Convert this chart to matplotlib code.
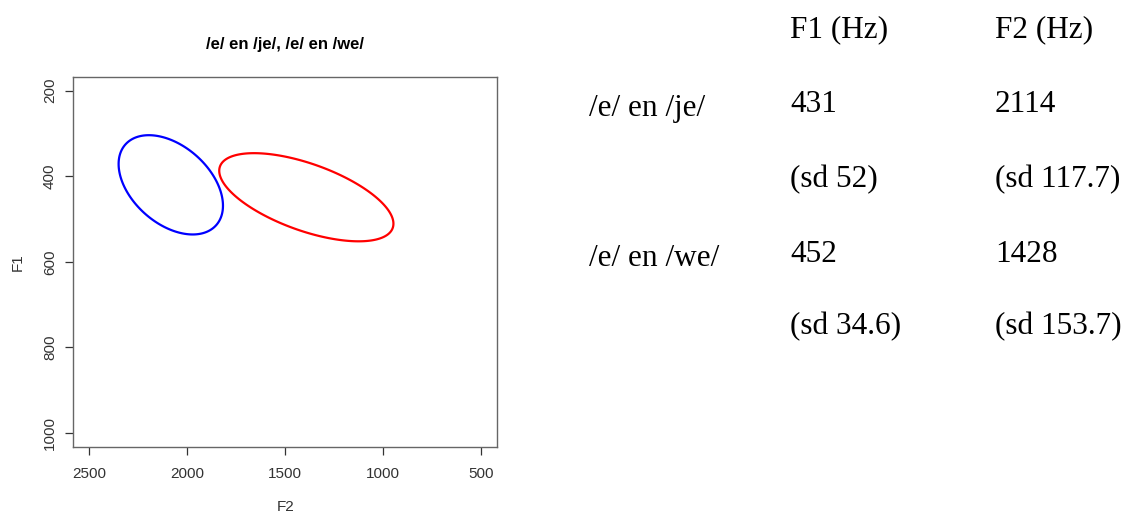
import numpy as np
import matplotlib
matplotlib.use("Agg")
import matplotlib.pyplot as plt
from matplotlib.patches import Polygon

# ---------------------------------------------------------------------------
# Data
# ---------------------------------------------------------------------------
groups = ["/e/ en /je/", "/e/ en /we/"]
colors = ["#0000ff", "#ff0000"]

# ellipses (Hz)
ell_f2_center = [2083, 1392]
ell_f1_center = [420, 449]
ell_f2_radius = [266, 444]
ell_f1_radius = [116, 103]
ell_corr = [-0.42, -0.60]

x_ticks = [2500, 2000, 1500, 1000, 500]
y_ticks = [200, 400, 600, 800, 1000]

# table on the right
table_header = ["F1 (Hz)", "F2 (Hz)"]
f1_mean = [431, 452]
f2_mean = [2114, 1428]
f1_sd = [52, 34.6]
f2_sd = [117.7, 153.7]

W, H = 1129, 513
SANS = "Liberation Sans"
SERIF = "Liberation Serif"


def px(x, y):
    """pixel position -> figure fraction"""
    return x / W, 1 - y / H


def ellipse_points(c2, c1, r2, r1, rho, n=240):
    t = np.linspace(0, 2 * np.pi, n, endpoint=False)
    f2 = c2 + r2 * np.cos(t)
    f1 = c1 + r1 * (rho * np.cos(t) + np.sqrt(1 - rho ** 2) * np.sin(t))
    return np.column_stack([f2, f1])


fig = plt.figure(figsize=(W / 100, H / 100), dpi=100)
ax = fig.add_axes([73.3 / W, 1 - 446.7 / H, (497 - 73.3) / W, (446.7 - 77) / H])

for i in range(len(groups)):
    pts = ellipse_points(ell_f2_center[i], ell_f1_center[i],
                         ell_f2_radius[i], ell_f1_radius[i], ell_corr[i])
    ax.add_patch(Polygon(pts, closed=True, fill=False,
                         edgecolor=colors[i], lw=1.6))

ax.set_xlim(2580, 420)
ax.set_ylim(1032, 168)
ax.set_xticks(x_ticks)
ax.set_yticks(y_ticks)

for sp in ax.spines.values():
    sp.set_color("#666666")
    sp.set_linewidth(1.0)

ax.tick_params(axis="both", direction="out", length=5.8, width=0.9,
               color="#333333", labelcolor="#333333", labelsize=11)
ax.tick_params(axis="x", pad=9)
ax.tick_params(axis="y", pad=6)
for lab in ax.get_xticklabels():
    lab.set_family(SANS)
for lab in ax.get_yticklabels():
    lab.set_family(SANS)
    lab.set_rotation(90)
    lab.set_va("center")

ax.set_title("/e/ en /je/, /e/ en /we/", fontsize=12, fontweight="bold",
             family=SANS, pad=20)
ax.set_xlabel("F2", fontsize=11, family=SANS, color="#333333", va="center")
ax.xaxis.set_label_coords(0.5, -0.162)
ax.set_ylabel("F1", fontsize=11, family=SANS, color="#333333", va="center")
ax.yaxis.set_label_coords(-0.1317, 0.5)

# ---------------------------------------------------------------------------
# Table
# ---------------------------------------------------------------------------
col_x = [790, 995]
label_x = 589
header_y = 37.5
num_y = [112, 262]
sd_y = [187, 334]
label_y = [116, 266]
tfs = 22.5

for j, txt in enumerate(table_header):
    fig.text(*px(col_x[j], header_y), txt, family=SERIF, fontsize=tfs,
             va="baseline", ha="left")

for i, g in enumerate(groups):
    fig.text(*px(label_x, label_y[i]), g, family=SERIF, fontsize=tfs,
             va="baseline", ha="left")
    fig.text(*px(col_x[0], num_y[i]), f"{f1_mean[i]}", family=SERIF,
             fontsize=tfs, va="baseline", ha="left")
    fig.text(*px(col_x[1], num_y[i]), f"{f2_mean[i]}", family=SERIF,
             fontsize=tfs, va="baseline", ha="left")
    fig.text(*px(col_x[0], sd_y[i]), f"(sd {f1_sd[i]:g})", family=SERIF,
             fontsize=tfs, va="baseline", ha="left")
    fig.text(*px(col_x[1], sd_y[i]), f"(sd {f2_sd[i]:g})", family=SERIF,
             fontsize=tfs, va="baseline", ha="left")

fig.savefig("out.png", dpi=100)
